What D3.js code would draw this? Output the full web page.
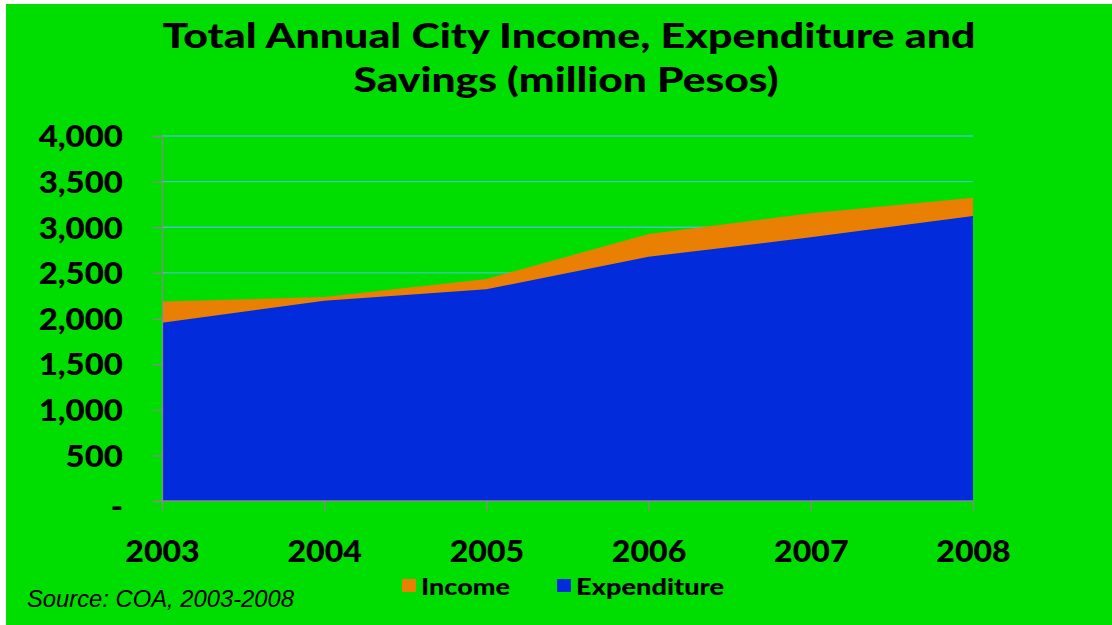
<!DOCTYPE html>
<html><head><meta charset="utf-8">
<script src="https://cdn.jsdelivr.net/npm/d3@7"></script>
<style>
html,body{margin:0;padding:0;background:#fff;}
svg{display:block;}
</style></head>
<body>
<svg id="chart" width="1112" height="625"></svg>
<script>
const years = ["2003","2004","2005","2006","2007","2008"];
const income = [2185, 2236, 2433, 2926, 3153, 3324];
const expenditure = [1954, 2195, 2320, 2677, 2890, 3123];
const yTicks = [0, 500, 1000, 1500, 2000, 2500, 3000, 3500, 4000];
const titleLines = ["Total Annual City Income, Expenditure and", "Savings (million Pesos)"];
const legendItems = [{name:"Income", color:"#e98003"}, {name:"Expenditure", color:"#022bdb"}];
const sourceText = "Source: COA, 2003-2008";

const svg = d3.select("#chart");
const W = 1112, H = 625;
const bold = "Lato, 'Open Sans', sans-serif";

function widen(sel, f){
  sel.each(function(){
    const L = this.getComputedTextLength();
    d3.select(this).attr("textLength", L*f).attr("lengthAdjust","spacingAndGlyphs");
  });
}

svg.append("rect").attr("x",6).attr("y",4).attr("width",W-6).attr("height",H-4).attr("fill","#00dd00");

const x = d3.scalePoint().domain(years).range([162, 973]);
const y = d3.scaleLinear().domain([0, 4000]).range([501, 136]);

// gridlines
svg.append("g").selectAll("line").data(yTicks.filter(d=>d>0)).join("line")
  .attr("x1",162).attr("x2",973)
  .attr("y1",d=>y(d)).attr("y2",d=>y(d))
  .attr("stroke","#3cc8c0").attr("stroke-width",1.3);

// areas
const areaInc = d3.area().x((d,i)=>x(years[i])).y0(y(0)).y1(d=>y(d));
svg.append("path").datum(income).attr("d",areaInc).attr("fill","#e98003");
svg.append("path").datum(expenditure).attr("d",areaInc).attr("fill","#022bdb");

// y axis
const yAxis = d3.axisLeft(y).tickValues(yTicks).tickSize(9).tickPadding(30)
  .tickFormat(d => d === 0 ? "-" : d3.format(",")(d));
const gy = svg.append("g").attr("transform","translate(162,0)").call(yAxis);
gy.select(".domain").attr("stroke","#8a8a8a").attr("stroke-width",1.3);
gy.selectAll(".tick line").attr("stroke","#8a8a8a").attr("stroke-width",1.3);
gy.selectAll(".tick text").attr("x",-39).attr("dy",d => d === 0 ? "0.55em" : "0.36em")
  .attr("font-family",bold).attr("font-weight",900).attr("font-size",30).attr("fill","#000")
  .call(widen, 1.1);

// x axis
const xAxis = d3.axisBottom(x).tickSize(10).tickPadding(28);
const gx = svg.append("g").attr("transform","translate(0,501)").call(xAxis);
gx.select(".domain").attr("stroke","#8a8a8a").attr("stroke-width",1.3).attr("d","M162,0H973");
gx.selectAll(".tick line").attr("stroke","#8a8a8a").attr("stroke-width",1.3);
gx.selectAll(".tick text").attr("y",61).attr("dy",0)
  .attr("font-family",bold).attr("font-weight",900).attr("font-size",30).attr("fill","#000")
  .call(widen, 1.07);

// title
const tl = svg.append("g");
tl.append("text").attr("x",569).attr("y",48).attr("text-anchor","middle")
  .attr("font-family",bold).attr("font-weight",900).attr("font-size",34).attr("fill","#000")
  .attr("textLength",813).attr("lengthAdjust","spacingAndGlyphs").text(titleLines[0]);
tl.append("text").attr("x",566).attr("y",92).attr("text-anchor","middle")
  .attr("font-family",bold).attr("font-weight",900).attr("font-size",34).attr("fill","#000")
  .attr("textLength",425).attr("lengthAdjust","spacingAndGlyphs").text(titleLines[1]);

// legend
const lg = svg.append("g");
const lx = [402, 557];
const lw = [89, 148];
legendItems.forEach((it,i)=>{
  lg.append("rect").attr("x",lx[i]).attr("y",579).attr("width",14).attr("height",13).attr("fill",it.color);
  lg.append("text").attr("x",lx[i]+19).attr("y",595)
    .attr("font-family",bold).attr("font-weight",900).attr("font-size",22).attr("fill","#000")
    .attr("textLength",lw[i]).attr("lengthAdjust","spacingAndGlyphs").text(it.name);
});

// source
svg.append("text").attr("x",27).attr("y",607)
  .attr("font-family","'Liberation Sans', Arial, sans-serif").attr("font-style","italic")
  .attr("font-size",23).attr("fill","#000").attr("textLength",267).attr("lengthAdjust","spacingAndGlyphs")
  .text(sourceText);
</script>
</body></html>
